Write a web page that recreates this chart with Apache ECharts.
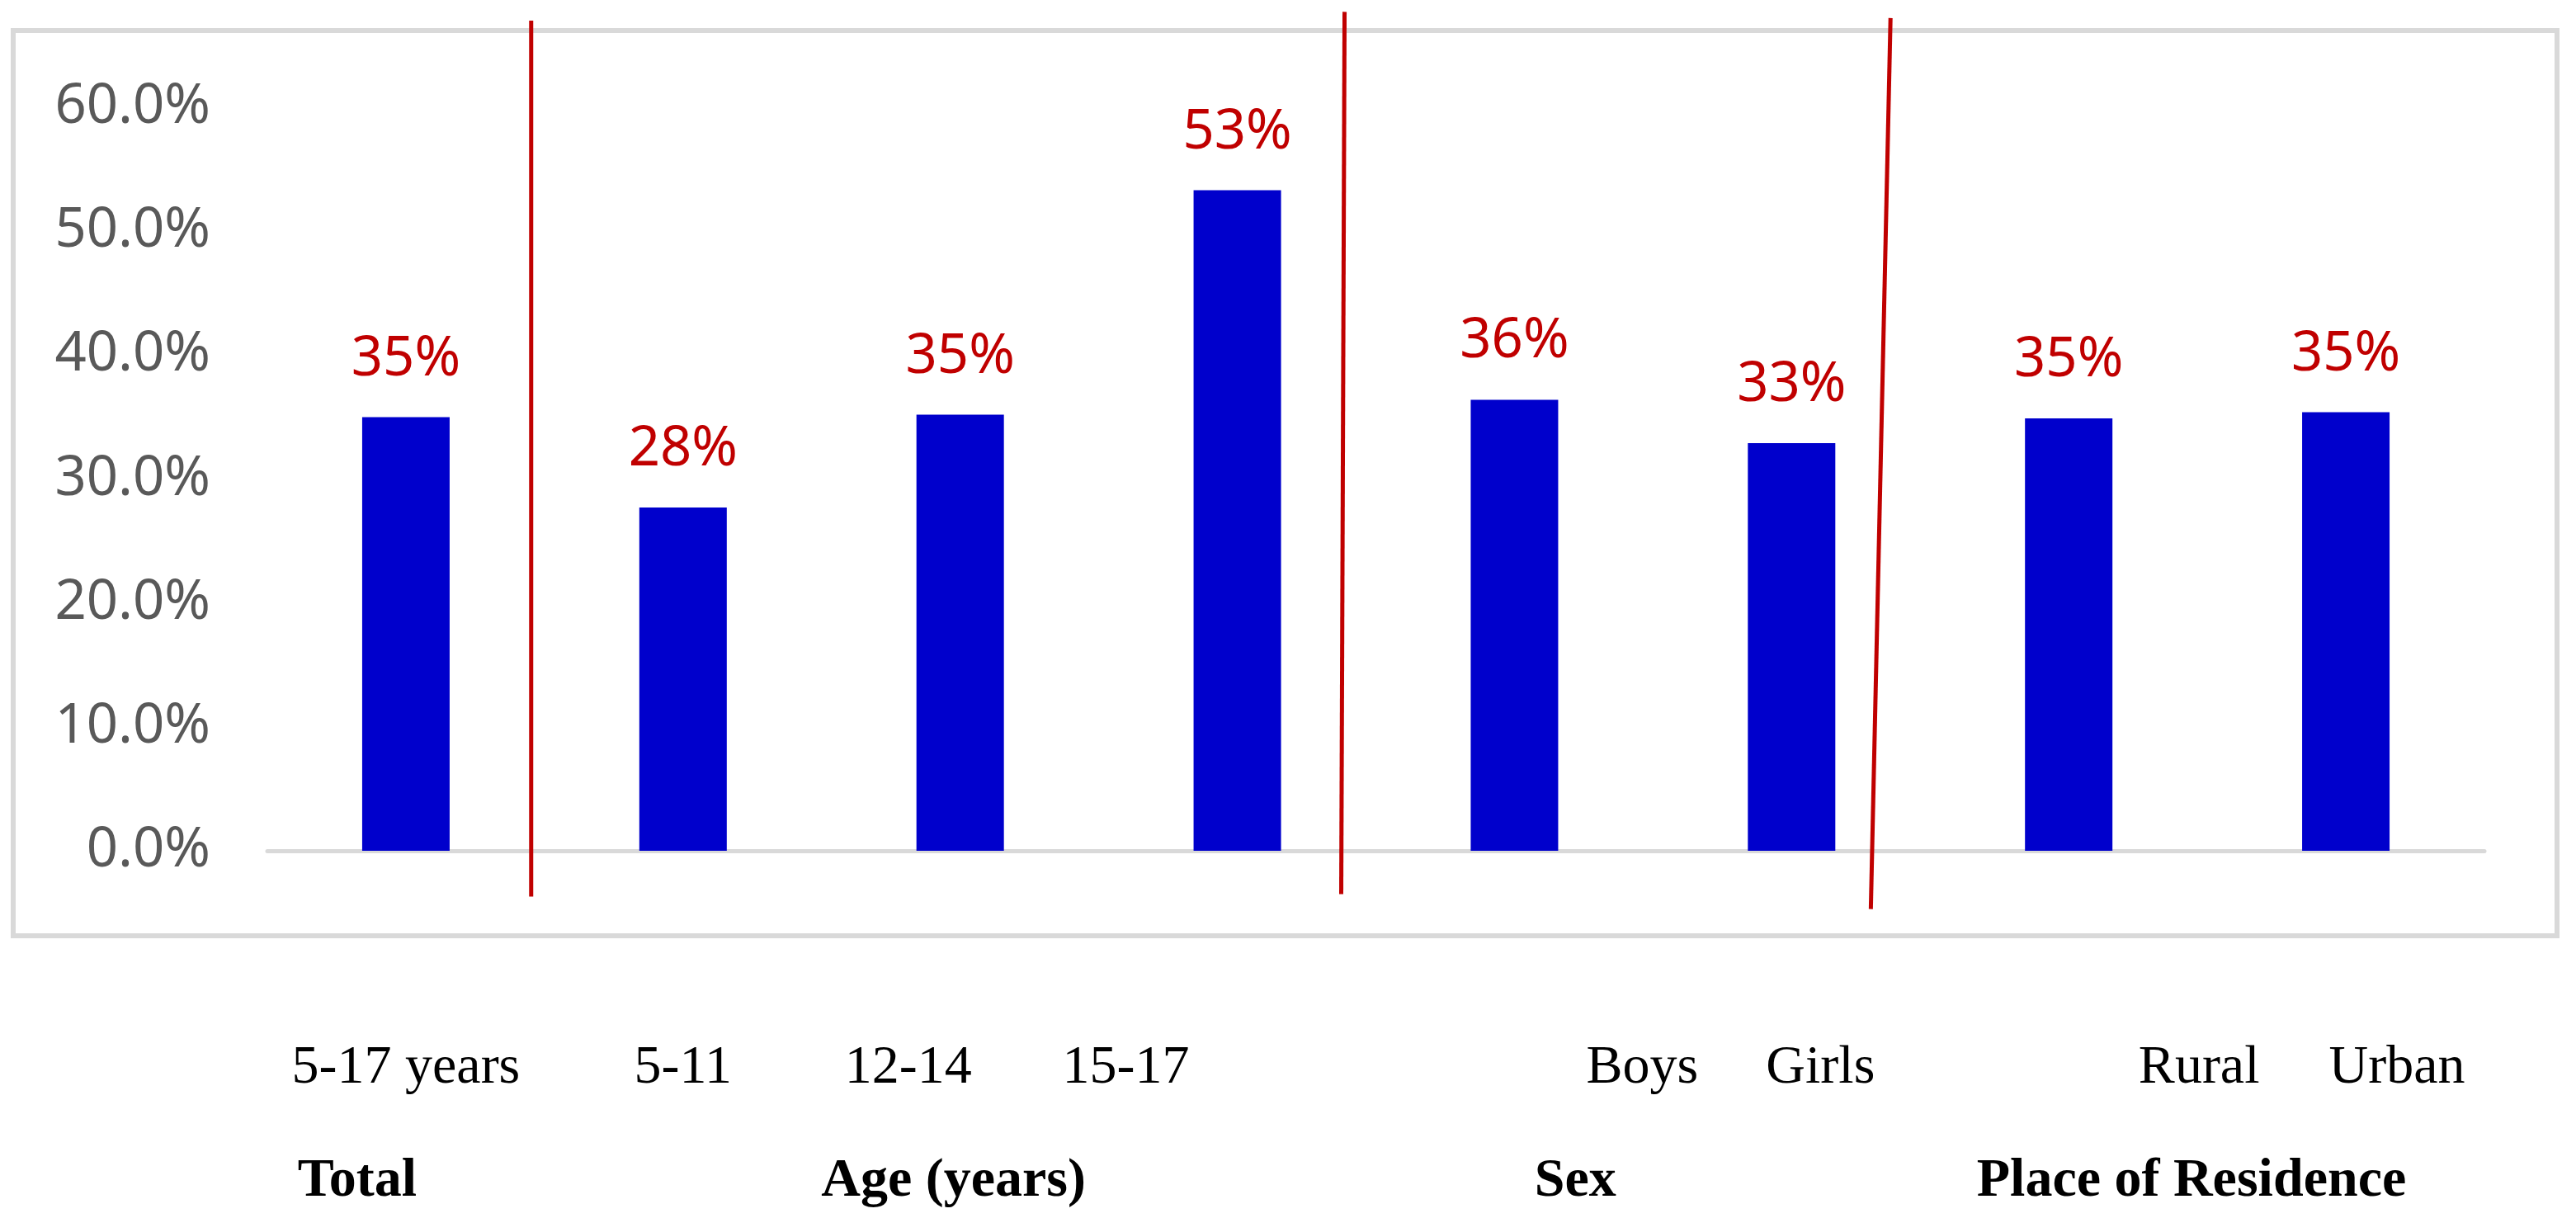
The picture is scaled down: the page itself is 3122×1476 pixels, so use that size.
<!DOCTYPE html>
<html><head><meta charset="utf-8">
<script src="https://cdn.jsdelivr.net/npm/echarts@6/dist/echarts.min.js"></script>
<style>html,body{margin:0;padding:0;background:#fff;}#c{width:3122px;height:1476px;}</style>
</head><body><div id="c"></div>
<script>
// ---- data ----
const categories = ['5-17 years', '5-11', '12-14', '15-17', 'Boys', 'Girls', 'Rural', 'Urban'];
const values = [35.0, 27.7, 35.2, 53.3, 36.4, 32.9, 34.9, 35.4];
const valueLabels = ['35%', '28%', '35%', '53%', '36%', '33%', '35%', '35%'];
const groups = ['Total', 'Age (years)', 'Sex', 'Place of Residence'];
const yTickValues = [0, 10, 20, 30, 40, 50, 60];

// ---- layout (positions in axis units / pixels) ----
const catShift = [0, 0, -63, -135, 155, 35, 158, 62];
const groupPos = [[-0.176, -26.7], [1.976, -26.7], [4.22, -26.7], [6.443, -26.7]];
const dividers = [
  [[0.452, 67.0], [0.452, -3.7]],
  [[3.387, 67.7], [3.375, -3.5]],
  [[5.357, 67.2], [5.286, -4.7]]
];

const serif = 'Liberation Serif';
const sans = 'Noto Sans';
const rich = {};
catShift.forEach((d, i) => {
  rich['s' + i] = {
    padding: d >= 0 ? [0, 0, 0, 2 * d] : [0, -2 * d, 0, 0],
    fontFamily: serif, fontSize: 66, color: '#000', lineHeight: 80
  };
});

const chart = echarts.init(document.getElementById('c'));
const series = [{
  type: 'bar',
  data: values,
  barWidth: 106,
  itemStyle: { color: '#0000cc' },
  label: {
    show: true, position: 'top', distance: 30,
    formatter: p => valueLabels[p.dataIndex],
    color: '#c00000', fontFamily: sans, fontSize: 67, lineHeight: 80
  },
  silent: true
}];
dividers.forEach(seg => {
  series.push({
    type: 'line', xAxisIndex: 1, yAxisIndex: 1, data: seg,
    symbol: 'none', clip: false, silent: true, z: 5,
    lineStyle: { color: '#c00000', width: 5 }
  });
});
series.push({
  type: 'scatter', xAxisIndex: 1, yAxisIndex: 1, clip: false, silent: true,
  symbolSize: 1, itemStyle: { color: 'rgba(255,255,255,0)' },
  data: groups.map((g, i) => ({ name: g, value: groupPos[i] })),
  label: {
    show: true, position: 'inside', formatter: '{b}',
    fontFamily: serif, fontWeight: 'bold', fontSize: 66, color: '#000000',
    textBorderWidth: 0, opacity: 1
  }
});

chart.setOption({
  animation: false,
  backgroundColor: '#fff',
  grid: { left: 324, right: 111, top: 130, bottom: 445 },
  xAxis: [{
    type: 'category', data: categories,
    axisTick: { show: false },
    axisLine: { lineStyle: { color: '#d9d9d9', width: 5 } },
    axisLabel: { margin: 224, interval: 0, formatter: (v, i) => `{s${i}|${v}}`, rich: rich }
  }, {
    type: 'value', min: -0.5, max: 7.5, show: false
  }],
  yAxis: [{
    type: 'value', min: yTickValues[0], max: yTickValues[yTickValues.length - 1], interval: 10,
    splitLine: { show: false }, axisLine: { show: false }, axisTick: { show: false },
    axisLabel: { formatter: v => v.toFixed(1) + '%', color: '#595959', fontFamily: sans, fontSize: 67, margin: 69 }
  }, {
    type: 'value', min: 0, max: 60, show: false
  }],
  graphic: [{
    type: 'rect', silent: true,
    shape: { x: 16, y: 37, width: 3083, height: 1097 },
    style: { fill: 'none', stroke: '#d9d9d9', lineWidth: 6 }
  }],
  series: series
});
</script></body></html>
